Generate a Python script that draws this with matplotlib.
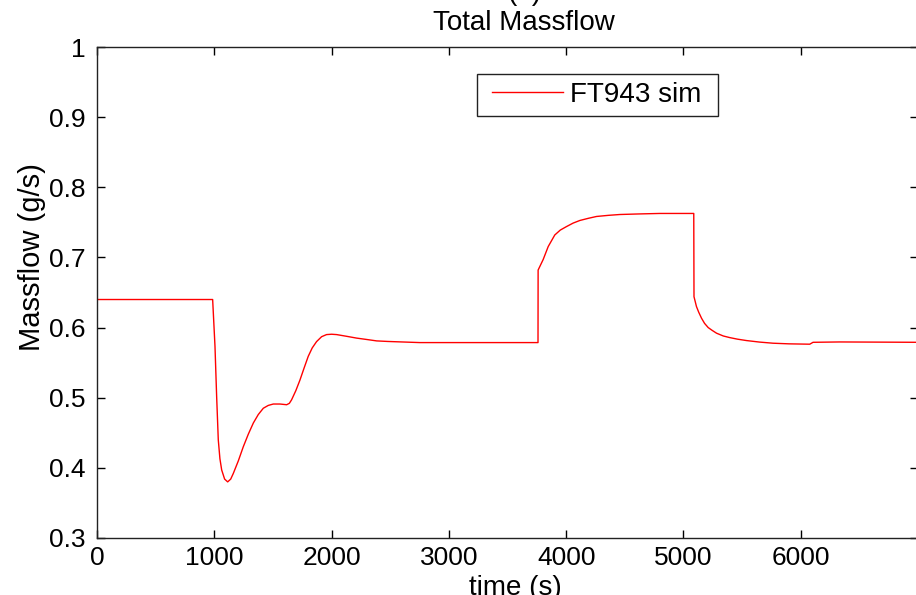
import matplotlib
matplotlib.use("Agg")
import matplotlib.pyplot as plt
from matplotlib.patches import Rectangle

plt.rcParams['font.family'] = ['Liberation Sans', 'DejaVu Sans']

# total massflow
time_s = [0, 986, 1006, 1020, 1034, 1048, 1063, 1088, 1114, 1140, 1162, 1205,
          1247, 1290, 1333, 1375, 1418, 1460, 1503, 1560, 1617, 1640, 1659,
          1695, 1730, 1765, 1801, 1835, 1872, 1915, 1957, 2000, 2043, 2130,
          2213, 2300, 2384, 2480, 2582, 2753, 3760, 3761, 3804, 3847, 3903,
          3950, 4003, 4060, 4117, 4190, 4259, 4360, 4458, 4620, 4798, 5088,
          5090, 5111, 5130, 5154, 5180, 5211, 5245, 5282, 5340, 5395, 5460,
          5537, 5650, 5764, 5900, 6077, 6105, 6333, 7000]
massflow = [0.640, 0.640, 0.573, 0.502, 0.440, 0.413, 0.397, 0.384, 0.380,
            0.384, 0.392, 0.410, 0.430, 0.448, 0.464, 0.476, 0.485, 0.489,
            0.491, 0.491, 0.490, 0.492, 0.497, 0.510, 0.525, 0.542, 0.559,
            0.571, 0.580, 0.587, 0.590, 0.5905, 0.590, 0.5875, 0.585, 0.583,
            0.581, 0.5802, 0.5796, 0.5786, 0.5786, 0.682, 0.697, 0.7155,
            0.732, 0.739, 0.744, 0.749, 0.7527, 0.7558, 0.7584, 0.760, 0.7612,
            0.762, 0.7627, 0.7627, 0.644, 0.630, 0.622, 0.6134, 0.606, 0.600,
            0.596, 0.592, 0.588, 0.5857, 0.5835, 0.5815, 0.5793, 0.5777,
            0.5768, 0.5763, 0.5790, 0.5795, 0.5790]

xticks = [0, 1000, 2000, 3000, 4000, 5000, 6000]
yticks = [0.3, 0.4, 0.5, 0.6, 0.7, 0.8, 0.9, 1.0]
yticklabels = ['0.3', '0.4', '0.5', '0.6', '0.7', '0.8', '0.9', '1']

fig = plt.figure(figsize=(9.16, 5.95), dpi=100)
ax = fig.add_axes([0.1059, 0.0958, 0.8963, 0.8252])

ax.plot(time_s, massflow, color='#ff0000', lw=1.0, label='FT943 sim')

ax.set_xlim(0, 7000)
ax.set_ylim(0.3, 1.0)
ax.set_xticks(xticks)
ax.set_yticks(yticks)
ax.set_yticklabels(yticklabels)
ax.tick_params(direction='in', length=5.5, width=1, top=True, right=True,
               labelsize=19, colors='black')
ax.tick_params(axis='x', pad=6)
ax.tick_params(axis='y', pad=8.5)
for s in ax.spines.values():
    s.set_linewidth(1.0)
    s.set_color('#222222')

ax.set_title('(a)\nTotal Massflow', fontsize=20, pad=12, x=0.52)
ax.set_xlabel('time (s)', fontsize=20, labelpad=0)
ax.xaxis.set_label_coords(0.51, -0.075)
ax.set_ylabel('Massflow (g/s)', fontsize=21)
ax.yaxis.set_label_coords(-0.062, 0.572)

# legend frame drawn by hand to get the flat matlab-like box
ax.add_patch(Rectangle((0.4628, 0.8595), 0.2936, 0.0855, transform=ax.transAxes,
                       facecolor='white', edgecolor='#222222', lw=1.0, zorder=4))
leg = ax.legend(loc='center left', bbox_to_anchor=(0.481, 0.902), frameon=False,
                fontsize=20, handlelength=2.55, handletextpad=0.25,
                borderpad=0, borderaxespad=0)
leg.set_zorder(5)

fig.savefig('out.png', dpi=100)
